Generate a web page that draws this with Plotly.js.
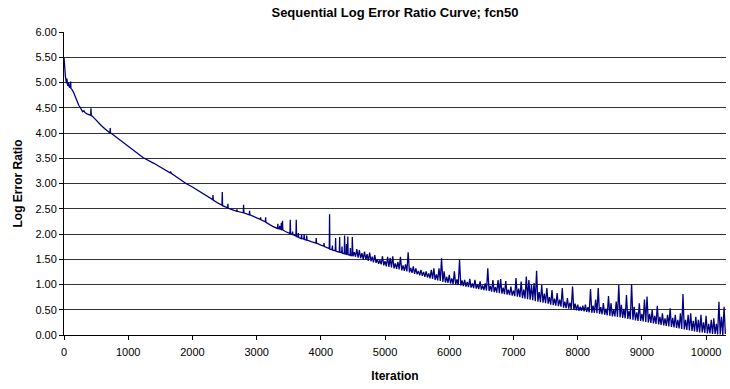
<!DOCTYPE html>
<html>
<head>
<meta charset="utf-8">
<script src="https://cdn.plot.ly/plotly-3.0.1.min.js"></script>
<style>html,body{margin:0;padding:0;background:#fff;}#chart{width:730px;height:389px;}</style>
</head>
<body>
<div id="chart"></div>
<script>
// Early part of the curve (smooth, few blips)
const iterEarly = [0,8,15,22,30,38,45,52,60,68,76,85,95,104,108,125,150,175,200,230,260,290,310,330,360,400,415,420,425,460,520,580,640,700,715,720,725,760,850,924,1000,1100,1235,1400,1500,1600,1650,1660,1670,1800,1900,2000,2112];
const ratioEarly = [5.50,5.30,5.15,5.12,5.05,4.98,5.08,4.95,4.93,5.00,4.91,4.90,4.92,5.02,4.88,4.86,4.80,4.72,4.64,4.55,4.49,4.42,4.44,4.40,4.38,4.36,4.35,4.49,4.35,4.31,4.22,4.15,4.08,4.01,4.00,4.10,4.00,3.97,3.88,3.81,3.74,3.64,3.51,3.40,3.33,3.25,3.21,3.24,3.20,3.09,3.00,2.93,2.84];

// Middle part (isolated spikes)
const iterMid = [2200,2300,2315,2320,2325,2400,2460,2465,2470,2548,2553,2558,2650,2688,2693,2698,2792,2797,2802,2885,2890,2895,3000,3057,3062,3067,3135,3140,3145,3250,3325,3330,3335,3355,3360,3365,3380,3385,3390,3398,3403,3408,3450,3519,3524,3529,3555,3560,3565,3612,3617,3622,3645,3650,3655,3695,3700,3705,3735,3740,3745,3775,3780,3785,3850,3923,3928,3933,4000,4045,4050,4055,4131,4136,4141,4175,4180,4185,4225,4230,4235,4288,4293,4298,4325,4330,4335,4365,4370,4375,4395,4400,4405,4415,4420,4425,4455,4460,4465,4485,4490];
const ratioMid = [2.77,2.69,2.68,2.77,2.67,2.61,2.57,2.83,2.56,2.52,2.60,2.51,2.47,2.45,2.49,2.45,2.42,2.58,2.42,2.38,2.46,2.38,2.32,2.29,2.33,2.28,2.24,2.33,2.23,2.15,2.11,2.20,2.11,2.10,2.16,2.10,2.09,2.22,2.09,2.08,2.26,2.08,2.05,2.01,2.28,2.01,1.99,2.05,1.99,1.96,2.28,1.95,1.94,2.02,1.93,1.91,1.99,1.91,1.90,2.00,1.89,1.88,1.97,1.88,1.85,1.82,1.92,1.82,1.78,1.76,1.82,1.75,1.71,2.39,1.70,1.69,1.77,1.68,1.67,1.92,1.66,1.64,1.94,1.64,1.63,1.75,1.62,1.61,1.97,1.61,1.60,1.80,1.60,1.60,1.95,1.59,1.58,1.72,1.57,1.57,1.94];

// Late part (dense noisy band)
const iterLate = [
4500,4520,4540,4560,4580,4600,4620,4640,4660,4680,
4700,4720,4740,4760,4780,4800,4820,4840,4860,4880,
4900,4920,4940,4960,4980,5000,5020,5040,5060,5080,
5100,5120,5140,5160,5180,5200,5220,5240,5260,5280,
5300,5320,5340,5360,5380,5400,5420,5440,5460,5480,
5500,5520,5540,5560,5580,5600,5620,5640,5660,5680,
5700,5720,5740,5760,5780,5800,5820,5840,5860,5880,
5900,5920,5940,5960,5980,6000,6020,6040,6060,6080,
6100,6120,6140,6160,6180,6200,6220,6240,6260,6280,
6300,6320,6340,6360,6380,6400,6420,6440,6460,6480,
6500,6520,6540,6560,6580,6600,6620,6640,6660,6680,
6700,6720,6740,6760,6780,6800,6820,6840,6860,6880,
6900,6920,6940,6960,6980,7000,7020,7040,7060,7080,
7100,7120,7140,7160,7180,7200,7220,7240,7260,7280,
7300,7320,7340,7360,7380,7400,7420,7440,7460,7480,
7500,7520,7540,7560,7580,7600,7620,7640,7660,7680,
7700,7720,7740,7760,7780,7800,7820,7840,7860,7880,
7900,7920,7940,7960,7980,8000,8020,8040,8060,8080,
8100,8120,8140,8160,8180,8200,8220,8240,8260,8280,
8300,8320,8340,8360,8380,8400,8420,8440,8460,8480,
8500,8520,8540,8560,8580,8600,8620,8640,8660,8680,
8700,8720,8740,8760,8780,8800,8820,8840,8860,8880,
8900,8920,8940,8960,8980,9000,9020,9040,9060,9080,
9100,9120,9140,9160,9180,9200,9220,9240,9260,9280,
9300,9320,9340,9360,9380,9400,9420,9440,9460,9480,
9500,9520,9540,9560,9580,9600,9620,9640,9660,9680,
9700,9720,9740,9760,9780,9800,9820,9840,9860,9880,
9900,9920,9940,9960,9980,10000,10020,10040,10060,10080,
10100,10120,10140,10160,10180,10200,10220,10240,10260,10280,
10300];
const ratioLate = [
1.56,1.64,1.55,1.70,1.53,1.68,1.52,1.62,1.50,1.65,
1.49,1.60,1.47,1.63,1.46,1.55,1.44,1.58,1.43,1.50,
1.41,1.48,1.40,1.56,1.38,1.46,1.36,1.55,1.35,1.53,
1.34,1.56,1.32,1.42,1.31,1.45,1.30,1.55,1.28,1.38,
1.27,1.40,1.26,1.64,1.24,1.33,1.23,1.36,1.21,1.32,
1.20,1.27,1.18,1.29,1.17,1.25,1.15,1.26,1.14,1.22,
1.12,1.29,1.11,1.32,1.09,1.20,1.08,1.32,1.07,1.52,
1.05,1.26,1.04,1.15,1.03,1.19,1.02,1.12,1.01,1.26,
1.00,1.10,0.99,1.49,0.98,1.08,0.97,1.09,0.96,1.05,
0.95,1.11,0.94,1.02,0.93,1.09,0.92,1.00,0.91,1.06,
0.90,0.98,0.89,1.02,0.88,1.32,0.87,0.97,0.86,1.09,
0.85,0.95,0.84,1.09,0.83,1.11,0.82,0.94,0.81,1.07,
0.80,0.90,0.79,0.96,0.78,0.88,0.77,1.13,0.76,0.92,
0.75,1.06,0.73,0.90,0.72,1.16,0.71,1.09,0.70,0.99,
0.69,1.03,0.67,1.27,0.66,0.85,0.65,0.99,0.64,0.82,
0.63,0.93,0.62,0.75,0.60,0.89,0.59,0.72,0.58,0.83,
0.57,0.70,0.56,0.93,0.54,0.66,0.53,0.73,0.52,0.64,
0.51,0.96,0.50,0.62,0.49,0.60,0.48,0.56,0.48,0.58,
0.47,0.60,0.46,0.55,0.45,0.91,0.44,0.58,0.44,0.70,
0.43,0.93,0.42,0.55,0.41,0.63,0.40,0.52,0.39,0.77,
0.38,0.63,0.37,0.50,0.37,0.66,0.36,0.99,0.35,0.60,
0.34,0.52,0.33,0.79,0.32,0.48,0.31,1.01,0.30,0.56,
0.29,0.45,0.28,0.63,0.28,0.42,0.27,0.70,0.26,0.76,
0.25,0.42,0.24,0.50,0.23,0.38,0.22,0.58,0.21,0.36,
0.20,0.43,0.19,0.33,0.18,0.40,0.17,0.53,0.16,0.34,
0.15,0.40,0.14,0.30,0.13,0.43,0.12,0.81,0.11,0.30,
0.10,0.40,0.09,0.43,0.08,0.28,0.07,0.36,0.06,0.30,
0.05,0.40,0.05,0.25,0.04,0.38,0.03,0.22,0.03,0.30,
0.02,0.33,0.02,0.22,0.01,0.66,0.01,0.36,0.00,0.56,
0.02];

const iteration = iterEarly.concat(iterMid, iterLate);
const logErrorRatio = ratioEarly.concat(ratioMid, ratioLate);

const yTicks = [0,0.5,1,1.5,2,2.5,3,3.5,4,4.5,5,5.5,6];
const xTicks = [0,1000,2000,3000,4000,5000,6000,7000,8000,9000,10000];

const font = 'Liberation Sans, Arial, Helvetica, sans-serif';

const trace = {
  type: 'scatter',
  mode: 'lines',
  x: iteration,
  y: logErrorRatio,
  line: {color: '#000080', width: 1.3},
  hoverinfo: 'x+y'
};

const layout = {
  width: 730,
  height: 389,
  margin: {l: 64, r: 4, t: 32, b: 54},
  paper_bgcolor: '#ffffff',
  plot_bgcolor: '#ffffff',
  showlegend: false,
  font: {family: font, size: 11, color: '#000'},
  title: {
    text: '<b>Sequential Log Error Ratio Curve; fcn50</b>',
    font: {family: font, size: 13, color: '#000'},
    xref: 'paper', x: 0.5, xanchor: 'center',
    yref: 'container', y: 0.968, yanchor: 'middle'
  },
  xaxis: {
    range: [0, 10310],
    tickvals: xTicks,
    ticktext: xTicks.map(String),
    showgrid: false,
    zeroline: false,
    showline: true,
    linecolor: '#000',
    linewidth: 1,
    ticks: 'outside',
    ticklen: 4,
    tickcolor: '#000',
    ticklabelstandoff: 3,
    tickfont: {family: font, size: 11, color: '#000'},
    title: {text: '<b>Iteration</b>', font: {family: font, size: 12, color: '#000'}, standoff: 14}
  },
  yaxis: {
    range: [0, 6],
    tickvals: yTicks,
    ticktext: yTicks.map(v => v.toFixed(2)),
    showgrid: true,
    gridcolor: '#333',
    gridwidth: 1,
    zeroline: false,
    showline: true,
    linecolor: '#000',
    linewidth: 1,
    ticks: 'outside',
    ticklen: 4,
    tickcolor: '#000',
    tickfont: {family: font, size: 11, color: '#000'},
    title: {text: '<b>Log Error Ratio</b>', font: {family: font, size: 12, color: '#000'}, standoff: 10}
  }
};

Plotly.newPlot('chart', [trace], layout, {displayModeBar: false, staticPlot: true});
</script>
</body>
</html>
